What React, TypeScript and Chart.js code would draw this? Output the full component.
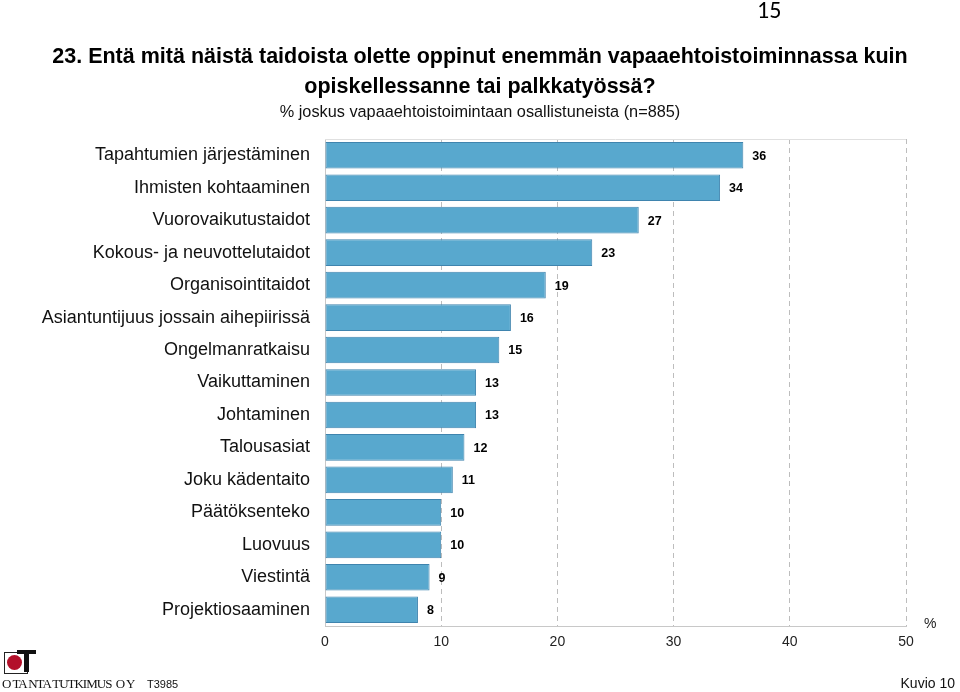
import React, { useEffect, useRef } from "react";
import { Chart, registerables } from "chart.js";

Chart.register(...registerables);

const categories = [
  "Tapahtumien järjestäminen",
  "Ihmisten kohtaaminen",
  "Vuorovaikutustaidot",
  "Kokous- ja neuvottelutaidot",
  "Organisointitaidot",
  "Asiantuntijuus jossain aihepiirissä",
  "Ongelmanratkaisu",
  "Vaikuttaminen",
  "Johtaminen",
  "Talousasiat",
  "Joku kädentaito",
  "Päätöksenteko",
  "Luovuus",
  "Viestintä",
  "Projektiosaaminen",
];
const values = [36, 34, 27, 23, 19, 16, 15, 13, 13, 12, 11, 10, 10, 9, 8];
const xTicks = [0, 10, 20, 30, 40, 50];

const FONT = "Arial, 'Liberation Sans', Helvetica, sans-serif";

const valueLabels = {
  id: "valueLabels",
  afterDatasetsDraw(chart: any) {
    const ctx = chart.ctx;
    const meta = chart.getDatasetMeta(0);
    ctx.save();
    ctx.font = `bold 12.5px ${FONT}`;
    ctx.fillStyle = "#000";
    ctx.textAlign = "left";
    ctx.textBaseline = "middle";
    meta.data.forEach((bar: any, i: number) => {
      ctx.fillText(String(values[i]), bar.x + 9, bar.y + 1);
    });
    ctx.restore();
  },
};

const topLine = {
  id: "topLine",
  afterDraw(chart: any) {
    const { ctx, chartArea } = chart;
    ctx.save();
    ctx.strokeStyle = "#e0e0e0";
    ctx.lineWidth = 1;
    ctx.beginPath();
    ctx.moveTo(chartArea.left, chartArea.top + 0.5);
    ctx.lineTo(chartArea.right, chartArea.top + 0.5);
    ctx.stroke();
    ctx.restore();
  },
};

export default function App() {
  const ref = useRef<HTMLCanvasElement>(null);
  useEffect(() => {
    if (!ref.current) return;
    const chart = new Chart(ref.current, {
      type: "bar",
      data: {
        labels: categories,
        datasets: [
          {
            data: values,
            backgroundColor: "#58A8CE",
            borderColor: "#3F84AE",
            borderWidth: 1,
            borderSkipped: false,
            barPercentage: 0.82,
            categoryPercentage: 1,
          },
        ],
      },
      options: {
        indexAxis: "y",
        animation: false,
        responsive: false,
        maintainAspectRatio: false,
        layout: { padding: { left: 0, right: 54, top: 139, bottom: 36 } },
        plugins: { legend: { display: false }, tooltip: { enabled: false } },
        scales: {
          x: {
            min: 0,
            max: 50,
            afterFit(scale: any) {
              scale.height = 30;
            },
            afterBuildTicks(scale: any) {
              scale.ticks = xTicks.map((v) => ({ value: v }));
            },
            ticks: {
              color: "#222",
              font: { family: FONT, size: 14 },
              padding: 8,
            },
            grid: {
              drawTicks: false,
              color: (c: any) => (c.tick && c.tick.value === 0 ? "rgba(0,0,0,0)" : "#bdbdbd"),
              lineWidth: 1,
            },
            border: { display: true, color: "#c8c8c8", dash: [5, 4] },
          },
          y: {
            afterFit(scale: any) {
              scale.width = 325;
            },
            ticks: {
              color: "#111",
              font: { family: FONT, size: 18 },
              padding: 15,
              autoSkip: false,
            },
            grid: { display: false, drawTicks: false },
            border: { display: true, color: "#c8c8c8" },
          },
        },
      },
      plugins: [valueLabels, topLine],
    } as any);
    return () => chart.destroy();
  }, []);

  const abs = (s: React.CSSProperties): React.CSSProperties => ({ position: "absolute", whiteSpace: "nowrap", ...s });

  return (
    <div style={{ position: "fixed", left: 0, top: 0, width: 960, height: 692, background: "#fff", overflow: "hidden", fontFamily: FONT }}>
      <canvas ref={ref} width={960} height={692} style={abs({ left: 0, top: 0, width: 960, height: 692 })} />
      <div style={abs({ left: 757, top: -5, fontFamily: "Carlito, Calibri, 'Liberation Sans', sans-serif", fontSize: 24, color: "#000" })}>15</div>
      <div style={abs({ left: 0, width: 960, top: 41, textAlign: "center", fontSize: 21.5, fontWeight: "bold", lineHeight: "30px", color: "#000" })}>
        23. Entä mitä näistä taidoista olette oppinut enemmän vapaaehtoistoiminnassa kuin
        <br />
        opiskellessanne tai palkkatyössä?
      </div>
      <div style={abs({ left: 0, width: 960, top: 102, textAlign: "center", fontSize: 16.3, color: "#111" })}>
        % joskus vapaaehtoistoimintaan osallistuneista (n=885)
      </div>
      <div style={abs({ left: 924, top: 615, fontSize: 14, color: "#222" })}>%</div>
      <div style={abs({ right: 5, top: 675, fontSize: 14, color: "#111" })}>Kuvio 10</div>
      <div style={abs({ left: 4, top: 652, width: 22, height: 20, border: "1px solid #222", background: "#fff" })}>
        <div style={abs({ left: 2, top: 2, width: 15, height: 15, borderRadius: "50%", background: "#b3102a" })} />
      </div>
      <div style={abs({ left: 17, top: 650, width: 19, height: 4, background: "#111" })} />
      <div style={abs({ left: 24, top: 650, width: 5, height: 22, background: "#111" })} />
      <div style={abs({ left: 2, top: 676, fontFamily: "'Liberation Serif', serif", fontSize: 13, letterSpacing: -1, color: "#111", whiteSpace: "pre" })}>
        O TA NTA TUTKIMUS  O Y
      </div>
      <div style={abs({ left: 147, top: 678, fontSize: 11, color: "#111" })}>T3985</div>
    </div>
  );
}
